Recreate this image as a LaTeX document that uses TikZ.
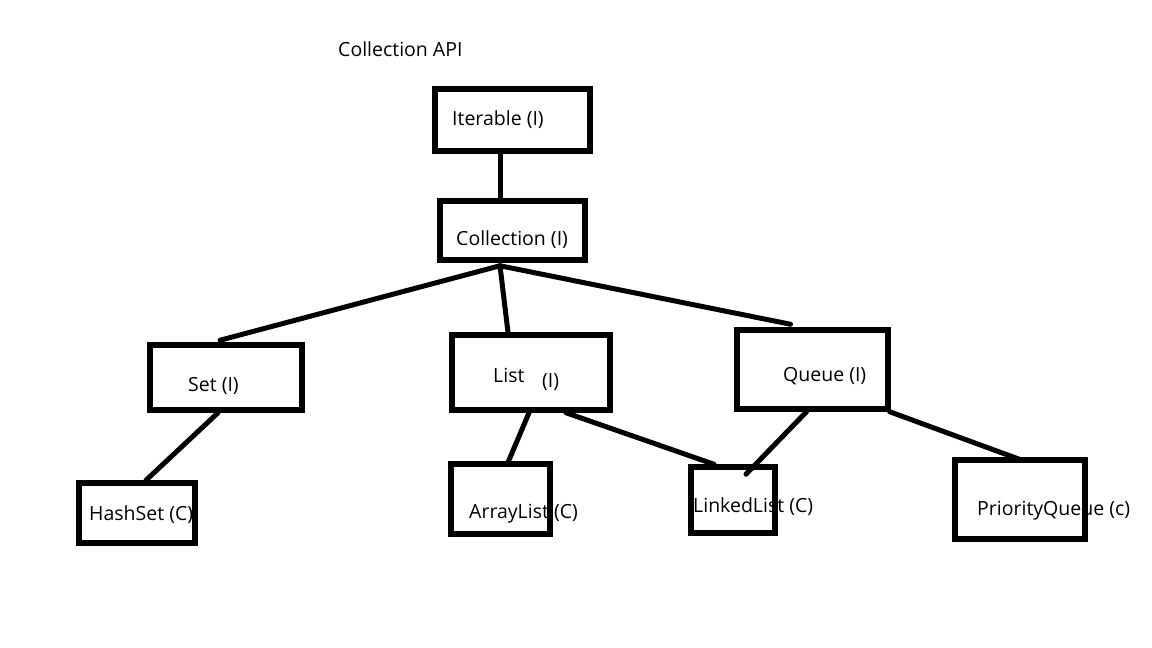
\documentclass[tikz,border=0pt]{standalone}
\usepackage{fontspec}
\setmainfont{Open Sans}
\begin{document}
\begin{tikzpicture}[x=1pt, y=-1pt,
  box/.style={draw=black, line width=5.5pt, inner sep=0pt, fill=none},
  lbl/.style={anchor=base west, inner sep=0pt, font=\fontsize{19.5}{23}\selectfont, text=black},
  link/.style={draw=black, line width=5pt, line cap=round}]
  \fill[white] (0,0) rectangle (1152,648);
  \useasboundingbox (0,0) rectangle (1152,648);

  % title and box captions (boxes are drawn over them)
  \node[lbl] (title) at (338,56) {Collection API};
  \node[lbl] (titer) at (452,125) {Iterable (I)};
  \node[lbl] (tcoll) at (456,245) {Collection (I)};
  \node[lbl] (tset) at (188,391) {Set (I)};
  \node[lbl] (tlist) at (493,382) {List};
  \node[lbl] (tlisti) at (542,387) {(I)};
  \node[lbl] (tqueue) at (783,381) {Queue (I)};
  \node[lbl] (thash) at (89,520) {HashSet (C)};
  \node[lbl] (tarray) at (469,518) {ArrayList (C)};
  \node[lbl] (tlinked) at (693,512) {LinkedList (C)};
  \node[lbl] (tprio) at (977,515) {PriorityQueue (c)};

  % boxes
  \node[box, minimum width=155pt, minimum height=62pt] (iter) at (512.5,120) {};
  \node[box, minimum width=145pt, minimum height=59pt] (coll) at (512.5,230.5) {};
  \node[box, minimum width=152pt, minimum height=65pt] (set) at (226,377.5) {};
  \node[box, minimum width=158pt, minimum height=75pt] (list) at (531,372.5) {};
  \node[box, minimum width=151pt, minimum height=79pt] (queue) at (812.5,369.5) {};
  \node[box, minimum width=116pt, minimum height=60pt] (hash) at (137,513) {};
  \node[box, minimum width=99pt, minimum height=70pt] (array) at (500.5,499) {};
  \node[box, minimum width=84pt, minimum height=66pt] (linked) at (733,500) {};
  \node[box, minimum width=130pt, minimum height=79pt] (prio) at (1020,499.5) {};

  % connectors
  \draw[link] ([xshift=-12.5pt]iter.south) -- ([xshift=-12.5pt]coll.north);
  \draw[link] ([xshift=-12.5pt,yshift=-3pt]coll.south) -- ([xshift=-6pt,yshift=2pt]set.north);
  \draw[link] ([xshift=-12.5pt,yshift=-3pt]coll.south) -- ([xshift=-23pt]list.north);
  \draw[link] ([xshift=-12.5pt,yshift=-3pt]coll.south) -- ([xshift=-22pt,yshift=3pt]queue.north);
  \draw[link] ([xshift=-8pt]set.south) -- ([xshift=9pt]hash.north);
  \draw[link] ([xshift=-2pt]list.south) -- ([xshift=8pt]array.north);
  \draw[link] ([xshift=35pt]list.south) -- ([xshift=-19pt]linked.north);
  \draw[link] ([xshift=-6pt]queue.south) -- ([xshift=13pt,yshift=-10pt]linked.north);
  \draw[link] ([xshift=-1pt]queue.south east) -- ([xshift=2pt,yshift=-3pt]prio.north);
\end{tikzpicture}
\end{document}
